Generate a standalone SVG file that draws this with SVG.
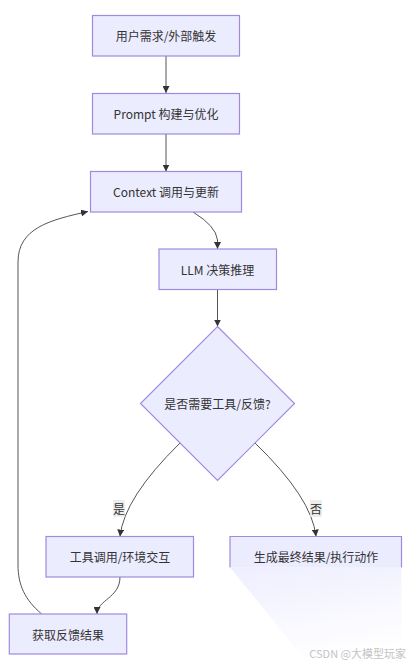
<svg xmlns="http://www.w3.org/2000/svg" width="410" height="666" viewBox="0 0 410 666">
<style>
.node rect,.node polygon{fill:#ECECFF;stroke:#9f8ae0;stroke-width:1.2}
.lbl{font-family:"Noto Sans CJK SC","Noto Sans",sans-serif;font-size:12px;fill:#333;text-anchor:middle;dominant-baseline:central}
.edge{fill:none;stroke:#555;stroke-width:1}
.elbg{fill:#e8e8e8;fill-opacity:0.8}
.wm{font-family:"Noto Sans CJK SC","Noto Sans",sans-serif;font-size:11px;fill:#c4c4c4;text-anchor:end}
</style>
<defs>
<marker id="arr" viewBox="0 0 10 10" refX="10" refY="5" markerUnits="userSpaceOnUse" markerWidth="7" markerHeight="7" orient="auto">
<path d="M0,0 L10,5 L0,10 z" fill="#333"/>
</marker>
<linearGradient id="fade" x1="0" y1="0" x2="0.3" y2="1">
<stop offset="0" stop-color="#ECECFF" stop-opacity="0.9"/>
<stop offset="1" stop-color="#ECECFF" stop-opacity="0"/>
</linearGradient>
<linearGradient id="fadeR" x1="0" y1="0" x2="1" y2="0">
<stop offset="0.8" stop-color="#fff" stop-opacity="0"/>
<stop offset="1" stop-color="#fff" stop-opacity="0.9"/>
</linearGradient>
</defs>
<g id="connectors">
<path class="edge" d="M166,56 L166,93" marker-end="url(#arr)"/>
<path class="edge" d="M166,134 L166,171.5" marker-end="url(#arr)"/>
<path class="edge" d="M193,212 Q216,226 217.5,240 L217.5,249" marker-end="url(#arr)"/>
<path class="edge" d="M217.5,289.5 L217.5,326.5" marker-end="url(#arr)"/>
<path class="edge" d="M180,443 Q124,498 120,536.5" marker-end="url(#arr)"/>
<path class="edge" d="M255,443 Q312,498 316,536.5" marker-end="url(#arr)"/>
<path class="edge" d="M120,577 C120,598 97,600 97,614" marker-end="url(#arr)"/>
<path class="edge" d="M41.7,614 C25,600 18,585 18,565 L18,262 C18,228 50,220 88,211.5" marker-end="url(#arr)"/>
<rect class="elbg" x="113" y="500" width="12" height="17"/>
<text class="lbl" x="119" y="508.5">是</text>
<rect class="elbg" x="310" y="500" width="12" height="17"/>
<text class="lbl" x="316" y="508.5">否</text>
</g>
<g id="n1" class="node">
<rect x="92.5" y="15.5" width="147" height="40.5"/>
<text class="lbl" x="166" y="35.7">用户需求/外部触发</text>
</g>
<g id="n2" class="node">
<rect x="92.5" y="93.5" width="147" height="40.5"/>
<text class="lbl" x="166" y="113.7">Prompt 构建与优化</text>
</g>
<g id="n3" class="node">
<rect x="90.5" y="171.5" width="151" height="40.5"/>
<text class="lbl" x="166" y="191.7">Context 调用与更新</text>
</g>
<g id="n4" class="node">
<rect x="159" y="249" width="117.5" height="40.5"/>
<text class="lbl" x="217.5" y="269.2">LLM 决策推理</text>
</g>
<g id="n5" class="node">
<polygon points="217.5,326.5 294.5,403.5 217.5,480.5 140.5,403.5"/>
<text class="lbl" x="217.5" y="403.5">是否需要工具/反馈?</text>
</g>
<g id="n6" class="node">
<rect x="46" y="536.5" width="147.5" height="40.5"/>
<text class="lbl" x="120" y="556.7">工具调用/环境交互</text>
</g>
<g id="n7">
<rect x="230" y="536.5" width="171.5" height="31" fill="#ECECFF"/>
<path d="M230,567.5 L230,536.5 L401.5,536.5 L401.5,567.5" fill="none" stroke="#9f8ae0" stroke-width="1.2"/>
<polygon points="230,567.5 401.5,567.5 401.5,666 310,666" fill="url(#fade)"/>
<rect x="380" y="536" width="30" height="130" fill="url(#fadeR)"/>
<text class="lbl" x="316" y="556.7">生成最终结果/执行动作</text>
</g>
<g id="n8" class="node">
<rect x="9.3" y="614" width="117.4" height="40"/>
<text class="lbl" x="68" y="634">获取反馈结果</text>
</g>
<text class="wm" x="406" y="658">CSDN @大模型玩家</text>
</svg>
